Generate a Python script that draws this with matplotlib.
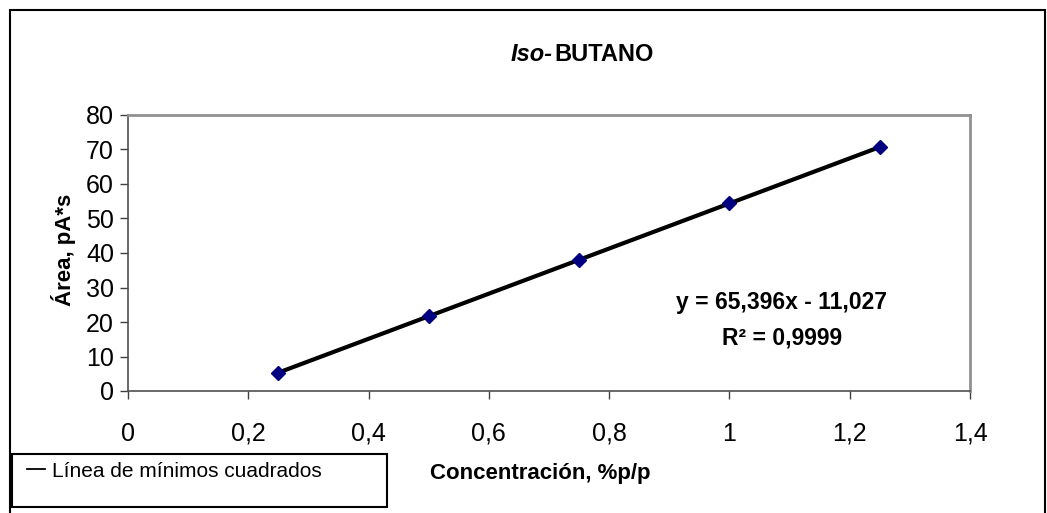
import numpy as np
import matplotlib.pyplot as plt
from matplotlib.patches import Rectangle
from matplotlib.lines import Line2D
from matplotlib.ticker import FuncFormatter

plt.rcParams['font.family'] = ['Liberation Sans', 'DejaVu Sans']

# data
conc = [0.25, 0.50, 0.75, 1.00, 1.25]
area = [5.3, 21.6, 38.1, 54.4, 70.7]
fit_slope = 65.396
fit_icept = -11.027

x_ticks = [0, 0.2, 0.4, 0.6, 0.8, 1.0, 1.2, 1.4]
y_ticks = [0, 10, 20, 30, 40, 50, 60, 70, 80]

W, H = 1047, 513
fig = plt.figure(figsize=(W / 100, H / 100), dpi=100)


def px(x, y):
    # pixel coords (from top left) -> figure fraction
    return x / W, 1 - y / H


l, t = px(128, 115)
r, b = px(970, 391)
ax = fig.add_axes([l, b, r - l, t - b])

xfit = np.array([conc[0], conc[-1]])
ax.plot(xfit, fit_slope * xfit + fit_icept, color='black', lw=3, zorder=2)
ax.plot(conc, area, linestyle='none', marker='D', ms=7, color='#000080',
        markeredgecolor='#000080', zorder=3)

ax.set_xlim(0, 1.4)
ax.set_ylim(0, 80)
ax.set_xticks(x_ticks)
ax.set_yticks(y_ticks)
fmt = FuncFormatter(lambda v, p: ('%g' % round(v, 2)).replace('.', ','))
ax.xaxis.set_major_formatter(fmt)
ax.yaxis.set_major_formatter(fmt)
ax.tick_params(axis='both', labelsize=18, length=6, width=1, color='#404040')
ax.tick_params(axis='x', pad=16)
ax.tick_params(axis='y', pad=4)

for side in ['left', 'bottom']:
    ax.spines[side].set_color('#505050')
    ax.spines[side].set_linewidth(1.2)
for side in ['top', 'right']:
    ax.spines[side].set_color('#909090')
    ax.spines[side].set_linewidth(2)

# title
tx, ty = px(553, 55)
fig.text(tx, ty, 'Iso-', fontsize=17, fontweight='bold', fontstyle='italic',
         ha='right', va='center')
fig.text(tx + 1 / W, ty, 'BUTANO', fontsize=17, fontweight='bold',
         ha='left', va='center')

# axis labels
fig.text(*px(540, 473), 'Concentración, %p/p', fontsize=16, fontweight='bold',
         ha='center', va='center')
fig.text(*px(63, 250), 'Área, pA*s', fontsize=16, fontweight='bold',
         ha='center', va='center', rotation=90)

# regression equation
fig.text(*px(781, 303), 'y = 65,396x - 11,027', fontsize=16.5, fontweight='bold',
         ha='center', va='center')
fig.text(*px(782, 338), 'R² = 0,9999', fontsize=16.5, fontweight='bold',
         ha='center', va='center')

# outer chart frame
fx0, fy1 = px(10, 10)
fig.add_artist(Rectangle((fx0, -0.05), (1045 - 10) / W, fy1 + 0.05,
                         transform=fig.transFigure, fill=False,
                         edgecolor='black', lw=1.5))

# legend box
lx0, ly1 = px(12, 454)
lx1, ly0 = px(387, 507)
fig.add_artist(Rectangle((lx0, ly0), lx1 - lx0, ly1 - ly0,
                         transform=fig.transFigure, fill=False,
                         edgecolor='black', lw=1.5))
proxy = Line2D([], [], color='black', lw=1.3)
fig.legend([proxy], ['Línea de mínimos cuadrados'], loc='upper left',
           bbox_to_anchor=px(10, 445), frameon=False, fontsize=15,
           handlelength=0.9, handletextpad=0.3, borderpad=0.3)

fig.savefig('out.png', dpi=100)
